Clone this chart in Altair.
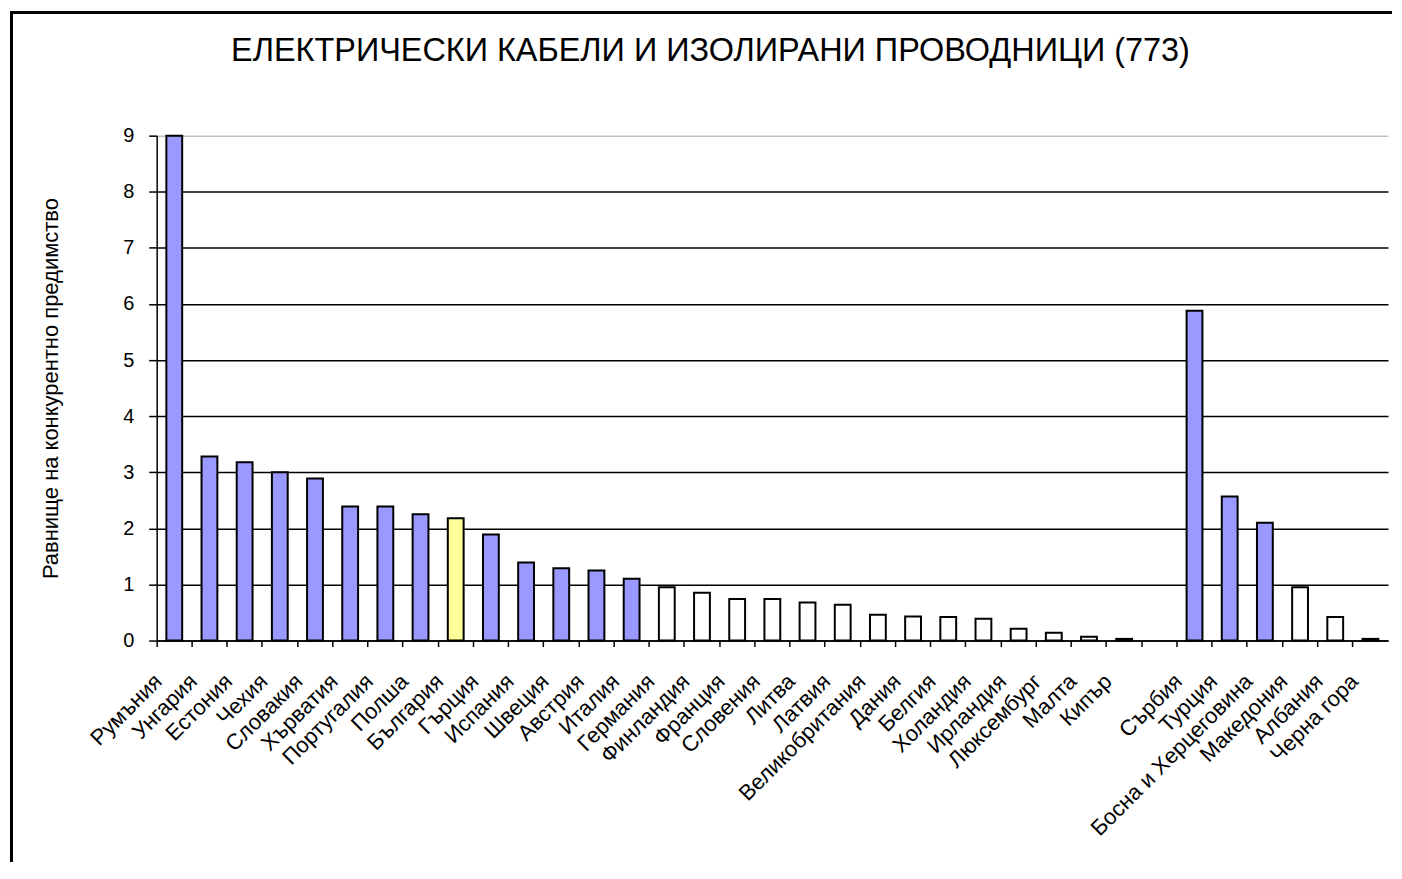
import altair as alt
import pandas as pd

FONT = "Liberation Sans"

countries = ["Румъния", "Унгария", "Естония", "Чехия", "Словакия", "Хърватия",
             "Португалия", "Полша", "България", "Гърция", "Испания", "Швеция",
             "Австрия", "Италия", "Германия", "Финландия", "Франция", "Словения",
             "Литва", "Латвия", "Великобритания", "Дания", "Белгия", "Холандия",
             "Ирландия", "Люксембург", "Малта", "Кипър", " ", "Сърбия", "Турция",
             "Босна и Херцеговина", "Македония", "Албания", "Черна гора"]
values = [9.0, 3.28, 3.18, 3.0, 2.89, 2.39,
          2.39, 2.25, 2.18, 1.89, 1.39, 1.29,
          1.25, 1.10, 0.95, 0.85, 0.74, 0.74,
          0.68, 0.64, 0.46, 0.43, 0.42, 0.39,
          0.21, 0.14, 0.07, 0.03, None, 5.88, 2.57,
          2.10, 0.95, 0.42, 0.03]
highlight = "България"
y_ticks = [0, 1, 2, 3, 4, 5, 6, 7, 8, 9]

title_text = "ЕЛЕКТРИЧЕСКИ КАБЕЛИ И ИЗОЛИРАНИ ПРОВОДНИЦИ (773)"
y_title = "Равнище на конкурентно предимство"

groups = []
for c, v in zip(countries, values):
    if c == highlight:
        groups.append("focus")
    elif v is not None and v > 1:
        groups.append("high")
    else:
        groups.append("low")

df = pd.DataFrame({"country": countries, "value": values, "group": groups})

W, H = 1234, 506

bars = alt.Chart(df).mark_bar(stroke="black", strokeWidth=2).encode(
    x=alt.X("country:N", sort=countries, title=None,
            scale=alt.Scale(paddingInner=0.55, paddingOuter=0.275),
            axis=alt.Axis(labelAngle=315, labelAlign="right", labelBaseline="middle",
                          labelFontSize=22, labelFont=FONT, labelColor="black",
                          labelOffset=-16, labelPadding=31, labelOverlap=False,
                          labelLimit=400, tickSize=6, tickColor="black", tickWidth=1.5,
                          bandPosition=-0.6111, domainColor="black", domainWidth=1.5,
                          grid=False)),
    y=alt.Y("value:Q", title=y_title,
            scale=alt.Scale(domain=[0, 9], nice=False, zero=True),
            axis=alt.Axis(values=y_ticks, tickSize=8, tickColor="black", tickWidth=1.5,
                          labelFontSize=20, labelFont=FONT, labelColor="black",
                          labelPadding=15, domainColor="black", domainWidth=1.5,
                          grid=True, gridWidth=1.5,
                          gridColor=alt.condition("datum.value == 9", alt.value("#C0C0C0"), alt.value("black")),
                          titleFont=FONT, titleFontSize=22, titleFontWeight="normal",
                          titleColor="black", titlePadding=60)),
    color=alt.Color("group:N",
                    scale=alt.Scale(domain=["high", "focus", "low"],
                                    range=["#9999FF", "#FFFF99", "#FFFFFF"]),
                    legend=None),
)

frame_src = alt.Data(values=[{"k": 1}])
left_line = alt.Chart(frame_src).mark_rule(color="black", strokeWidth=3).encode(
    x=alt.value(-145.5), y=alt.value(-125), y2=alt.value(728))
top_line = alt.Chart(frame_src).mark_rule(color="black", strokeWidth=3).encode(
    x=alt.value(-147), x2=alt.value(1238), y=alt.value(-123.5))

chart = alt.layer(bars, left_line, top_line).properties(
    width=W, height=H, padding=0,
    title=alt.TitleParams(title_text, font=FONT, fontSize=32.5, fontWeight="normal",
                          color="black", anchor="middle", dx=-62, offset=-84,
                          baseline="alphabetic"),
    background="white",
).configure_view(stroke=None)

chart.save("out.html", embed_options={"renderer": "svg", "actions": False})
